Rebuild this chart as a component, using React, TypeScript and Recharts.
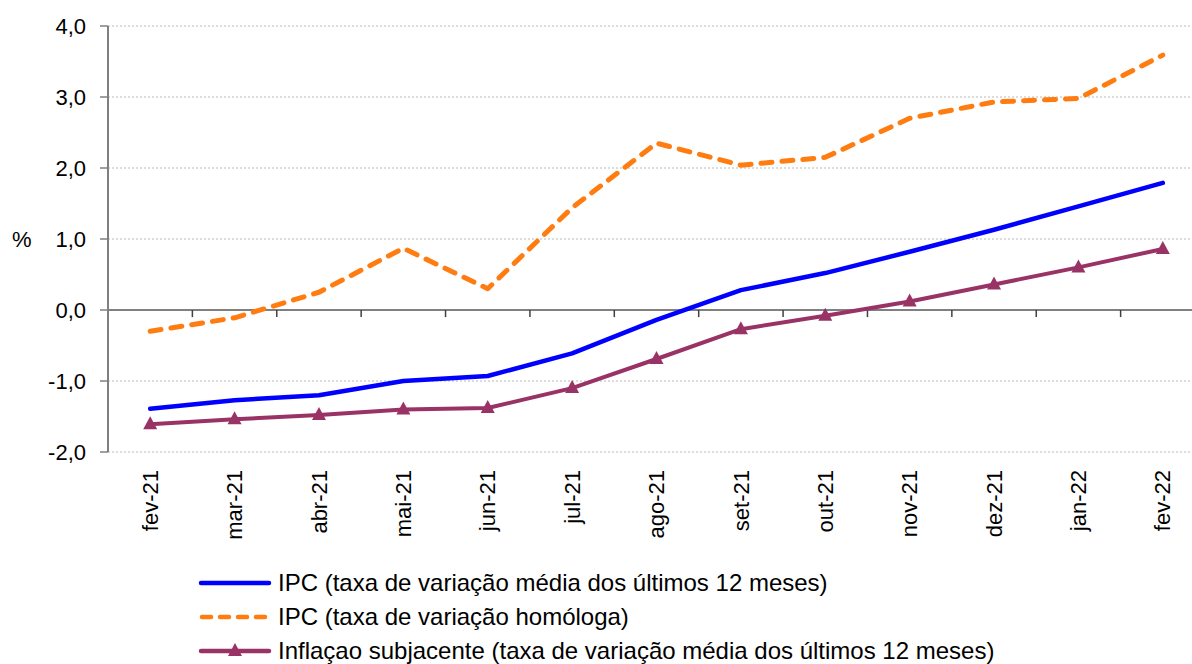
import React from 'react';
import { LineChart, Line, XAxis, YAxis, CartesianGrid, ReferenceLine } from 'recharts';

const months = ['fev-21', 'mar-21', 'abr-21', 'mai-21', 'jun-21', 'jul-21', 'ago-21', 'set-21', 'out-21', 'nov-21', 'dez-21', 'jan-22', 'fev-22'];
const ipcMedia = [-1.39, -1.27, -1.2, -1.0, -0.93, -0.61, -0.14, 0.28, 0.52, 0.82, 1.13, 1.46, 1.79];
const ipcHomologa = [-0.3, -0.11, 0.25, 0.87, 0.3, 1.44, 2.35, 2.04, 2.15, 2.7, 2.93, 2.98, 3.59];
const subjacente = [-1.61, -1.54, -1.48, -1.4, -1.38, -1.1, -0.69, -0.27, -0.08, 0.12, 0.36, 0.6, 0.86];
const yTicks = [-2, -1, 0, 1, 2, 3, 4];

const seriesNames = [
  'IPC (taxa de variação média dos últimos 12 meses)',
  'IPC (taxa de variação homóloga)',
  'Inflaçao subjacente (taxa de variação média dos últimos 12 meses)',
];

const BLUE = '#0000ff';
const ORANGE = '#ff7c10';
const PURPLE = '#993366';
const FONT = '"Liberation Sans", Arial, sans-serif';

const data = months.map((m, i) => ({
  i,
  name: m,
  media: ipcMedia[i],
  homologa: ipcHomologa[i],
  sub: subjacente[i],
}));

// category boundaries, where the small ticks hang from the zero line
const boundaries = months.slice(1).map((_, i) => i + 0.5);

const fmt = (v: number) => v.toFixed(1).replace('.', ',');

const MonthTick = (props: any) => {
  const { x, y, payload } = props;
  return (
    <text
      x={x}
      y={y}
      transform={`rotate(-90, ${x}, ${y})`}
      textAnchor="end"
      dy="0.35em"
      fontSize={22}
      fontFamily={FONT}
      fill="#000"
    >
      {months[payload.value]}
    </text>
  );
};

const Triangle = (props: any) => {
  const { cx, cy, index } = props;
  if (cx == null || cy == null) return null;
  return (
    <polygon
      key={`t-${index}`}
      points={`${cx},${cy - 8} ${cx - 7},${cy + 5} ${cx + 7},${cy + 5}`}
      fill={PURPLE}
    />
  );
};

function LegendRow({ kind, label }: { kind: number; label: string }) {
  return (
    <div style={{ display: 'flex', alignItems: 'center', height: 34 }}>
      <svg width={74} height={20} style={{ marginRight: 6 }}>
        {kind === 0 && <line x1={3} y1={10} x2={71} y2={10} stroke={BLUE} strokeWidth={4.5} strokeLinecap="round" />}
        {kind === 1 && (
          <line x1={4} y1={10} x2={72} y2={10} stroke={ORANGE} strokeWidth={4.5} strokeLinecap="round" strokeDasharray="9 9" />
        )}
        {kind === 2 && (
          <g>
            <line x1={3} y1={10} x2={71} y2={10} stroke={PURPLE} strokeWidth={4.5} strokeLinecap="round" />
            <polygon points="37,2 30,15 44,15" fill={PURPLE} />
          </g>
        )}
      </svg>
      <span style={{ fontFamily: FONT, fontSize: 24, color: '#000', whiteSpace: 'nowrap' }}>{label}</span>
    </div>
  );
}

export default function App() {
  return (
    <div
      style={{
        position: 'fixed',
        left: 0,
        top: 0,
        width: 1192,
        height: 664,
        overflow: 'hidden',
        background: '#fff',
      }}
    >
      <LineChart width={1205} height={664} data={data} margin={{ top: 26, right: 0, bottom: 0, left: 0 }}>
        <CartesianGrid horizontal vertical={false} stroke="#b8b8b8" strokeDasharray="2 2" />
        <XAxis
          dataKey="i"
          type="number"
          domain={[-0.5, 12.5]}
          ticks={months.map((_, i) => i)}
          interval={0}
          height={212}
          axisLine={false}
          tickLine={false}
          tickSize={0}
          tickMargin={18}
          tick={<MonthTick />}
        />
        <YAxis
          type="number"
          domain={[-2, 4]}
          ticks={yTicks}
          interval={0}
          width={108}
          tickFormatter={fmt}
          tick={{ fontSize: 22, fontFamily: FONT, fill: '#000' }}
          tickSize={8}
          tickMargin={14}
          axisLine={{ stroke: '#808080', strokeWidth: 2 }}
          tickLine={{ stroke: '#808080', strokeWidth: 1.5 }}
          label={{ value: '%', position: 'insideLeft', offset: 12, fontSize: 22, fontFamily: FONT, fill: '#000' }}
        />
        <ReferenceLine y={0} stroke="#808080" strokeWidth={2} />
        {boundaries.map((b) => (
          <ReferenceLine
            key={b}
            segment={[
              { x: b, y: 0 },
              { x: b, y: -0.1 },
            ]}
            stroke="#404040"
            strokeWidth={1.5}
            ifOverflow="visible"
          />
        ))}
        <Line
          type="linear"
          dataKey="homologa"
          stroke={ORANGE}
          strokeWidth={5}
          strokeDasharray="11 10"
          strokeLinecap="round"
          strokeLinejoin="round"
          dot={false}
          isAnimationActive={false}
        />
        <Line
          type="linear"
          dataKey="media"
          stroke={BLUE}
          strokeWidth={4.5}
          strokeLinecap="round"
          strokeLinejoin="round"
          dot={false}
          isAnimationActive={false}
        />
        <Line
          type="linear"
          dataKey="sub"
          stroke={PURPLE}
          strokeWidth={4}
          strokeLinejoin="round"
          dot={<Triangle />}
          activeDot={false}
          isAnimationActive={false}
        />
      </LineChart>
      <div style={{ position: 'absolute', left: 198, top: 566 }}>
        {seriesNames.map((n, k) => (
          <LegendRow key={k} kind={k} label={n} />
        ))}
      </div>
    </div>
  );
}
